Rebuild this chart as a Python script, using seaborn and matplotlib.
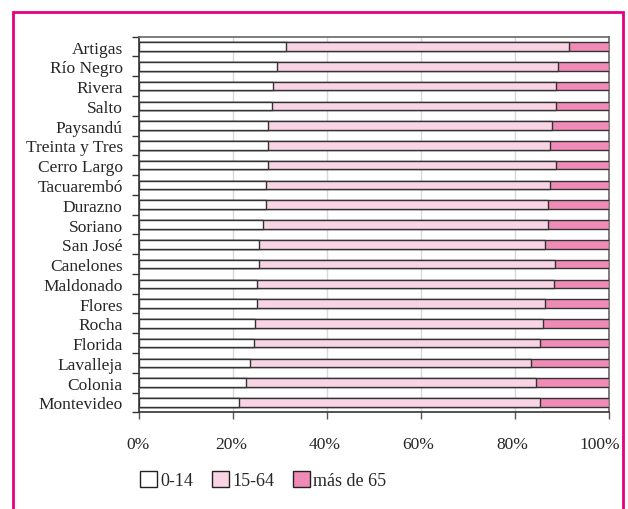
import matplotlib
matplotlib.use("Agg")
import matplotlib.pyplot as plt
import matplotlib.transforms as mtransforms
from matplotlib.patches import Patch, Rectangle
from matplotlib.ticker import FixedLocator, PercentFormatter
import numpy as np
import pandas as pd
import seaborn as sns

# Population structure by age group, share of each department (%)
departamentos = [
    "Artigas", "Río Negro", "Rivera", "Salto", "Paysandú", "Treinta y Tres",
    "Cerro Largo", "Tacuarembó", "Durazno", "Soriano", "San José", "Canelones",
    "Maldonado", "Flores", "Rocha", "Florida", "Lavalleja", "Colonia", "Montevideo",
]
edad_0_14 = [31.2, 29.4, 28.5, 28.3, 27.4, 27.4, 27.4, 26.9, 26.9, 26.4,
             25.4, 25.4, 25.0, 25.0, 24.6, 24.4, 23.6, 22.7, 21.2]
edad_15_64 = [60.3, 59.9, 60.2, 60.4, 60.6, 60.1, 61.3, 60.6, 60.2, 60.7,
              61.0, 63.2, 63.3, 61.5, 61.3, 61.0, 59.9, 61.8, 64.2]
edad_65_mas = [round(100 - a - b, 1) for a, b in zip(edad_0_14, edad_15_64)]

series = ["0-14", "15-64", "más de 65"]
colores = ["#FFFFFF", "#F9D4E4", "#F08BB7"]
x_ticks = [0, 20, 40, 60, 80, 100]

df = pd.DataFrame({
    "departamento": departamentos,
    "0-14": edad_0_14,
    "15-64": edad_15_64,
    "más de 65": edad_65_mas,
})
df["acum_1"] = df["0-14"]
df["acum_2"] = df["0-14"] + df["15-64"]
df["acum_3"] = df["acum_2"] + df["más de 65"]

sns.set_style("white")
plt.rcParams["font.family"] = ["Liberation Serif", "DejaVu Serif"]

fig = plt.figure(figsize=(6.28, 5.10), dpi=100)
ax = fig.add_axes([139.3 / 628, 1 - 413.3 / 510, (608.7 - 139.3) / 628, (413.3 - 37.7) / 510])

# stacked bars: draw cumulative totals from the back to the front
for col, color in zip(["acum_3", "acum_2", "acum_1"], colores[::-1]):
    sns.barplot(data=df, x=col, y="departamento", orient="h", color=color,
                saturation=1, width=0.435, edgecolor="#333333", linewidth=1.0,
                ax=ax, zorder=3)

ax.set_xlim(0, 100)
ax.set_ylim(len(departamentos) - 0.5, -0.5)
ax.set_xlabel("")
ax.set_ylabel("")

ax.xaxis.set_major_locator(FixedLocator(x_ticks))
ax.xaxis.set_major_formatter(PercentFormatter(decimals=0))
ax.grid(axis="x", color="#D9D9D9", linewidth=1.0, zorder=0)
ax.set_axisbelow(True)

ax.yaxis.set_minor_locator(FixedLocator(np.arange(-0.5, len(departamentos), 1.0)))
ax.tick_params(axis="y", which="major", length=0, pad=12, labelsize=12.5)
ax.tick_params(axis="y", which="minor", left=True, length=5, width=1.0, color="#333333")
ax.tick_params(axis="x", which="major", bottom=True, length=5, width=1.0,
               color="#555555", pad=12, labelsize=12.5)

# nudge the percentage labels slightly left, the last one more so it stays inside the frame
fig.canvas.draw()
for lbl, dx in zip(ax.get_xticklabels(), [-1, -2, -2.5, -3, -3, -9]):
    lbl.set_transform(lbl.get_transform() +
                      mtransforms.ScaledTranslation(dx / 100, 0, fig.dpi_scale_trans))

for side in ["left", "bottom"]:
    ax.spines[side].set_color("#333333")
    ax.spines[side].set_linewidth(1.2)
for side in ["top", "right"]:
    ax.spines[side].set_visible(True)
    ax.spines[side].set_color("#666666")
    ax.spines[side].set_linewidth(1.2)

handles = [Patch(facecolor=c, edgecolor="#222222", linewidth=1.0, label=s)
           for s, c in zip(series, colores)]
fig.legend(handles=handles, ncol=3, frameon=False, loc="center left",
           bbox_to_anchor=(140 / 628, 1 - 481 / 510), borderpad=0,
           borderaxespad=0, handlelength=0.95, handleheight=0.95,
           handletextpad=0.2, columnspacing=1.0, fontsize=13)

# magenta frame around the figure
fig.patches.append(Rectangle((12.5 / 628, -0.1), (623 - 12.5) / 628, 1.1 - 12.5 / 510,
                             transform=fig.transFigure, fill=False,
                             edgecolor="#E6007E", linewidth=2.0))

fig.savefig("out.png", dpi=100)
